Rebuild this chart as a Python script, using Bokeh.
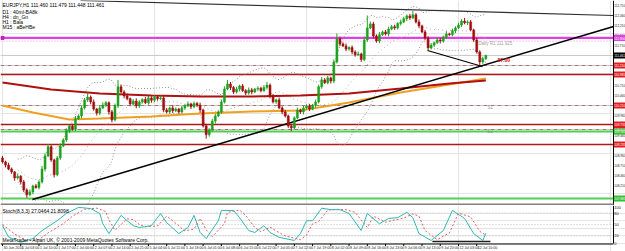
import numpy as np
import pandas as pd
from bokeh.plotting import figure
from bokeh.layouts import column
from bokeh.models import ColumnDataSource, Range1d
from bokeh.embed import file_html
from bokeh.resources import INLINE
from bokeh.core.properties import value

# ---------------- data ----------------
symbol_info = "EURJPY,H1  111.460 111.479 111.448 111.461"
info_lines = ["D1 : 40ml-BA8k", "H4 : dn_Gn", "H1 : Bala", "M15 : aBeHBe"]
stoch_title = "Stoch(8,3,3) 27.0464 21.8098"
watermark = "MetaTrader - Alpari UK, \u00a9 2001-2009 MetaQuotes Software Corp."

first_open = 108.90
close = [
    108.80, 108.72, 108.62, 108.55, 108.40, 108.44, 108.30, 108.10, 107.98, 108.05,
    108.20, 108.16, 108.30, 108.62, 108.95, 109.18, 108.85, 108.48, 108.90, 109.20,
    109.35, 109.58, 109.70, 109.62, 109.88, 109.95, 110.15, 110.35, 110.42, 110.30,
    110.12, 110.02, 110.15, 110.22, 110.28, 110.05, 109.85, 110.20, 110.68, 110.55,
    110.45, 110.38, 110.25, 110.32, 110.20, 110.30, 110.36, 110.28, 110.40, 110.34,
    110.42, 110.38, 110.40, 110.10, 110.05, 110.15, 110.08, 110.12, 110.05, 110.15,
    110.20, 110.25, 110.18, 110.26, 110.22, 110.10, 109.70, 109.48, 109.60, 109.82,
    109.95, 110.05, 110.30, 110.62, 110.75, 110.66, 110.55, 110.62, 110.70, 110.58,
    110.52, 110.60, 110.55, 110.62, 110.64, 110.58, 110.66, 110.72, 110.45, 110.30,
    110.35, 110.15, 110.05, 109.95, 109.70, 109.65, 109.90, 110.10, 110.05, 110.15,
    110.20, 110.12, 110.22, 110.30, 110.68, 110.85, 110.78, 110.90, 110.82, 111.30,
    111.88, 111.75, 111.70, 111.62, 111.66, 111.55, 111.48, 111.50, 111.36, 111.85,
    112.15, 112.25, 111.95, 111.82, 111.98, 112.05, 112.00, 112.12, 112.18, 112.15,
    112.26, 112.30, 112.38, 112.45, 112.40, 112.48, 112.30, 112.20, 112.05, 111.90,
    111.65, 111.72, 111.78, 111.85, 111.82, 111.92, 112.00, 111.98, 112.08, 112.15,
    112.22, 112.32, 112.28, 112.30, 112.10, 111.85, 111.55, 111.30, 111.38, 111.461,
]
upper_wick_pips = [
    5, 3, 6, 4, 2, 7, 3, 5, 4, 6,   3, 5, 4, 8, 6, 7, 4, 3, 5, 6,
    4, 6, 3, 5, 7, 4, 6, 5, 11, 4,  6, 3, 5, 7, 4, 3, 5, 6, 17, 5,
    4, 6, 3, 5, 7, 4, 3, 6, 5, 4,   5, 3, 6, 4, 5, 3, 7, 4, 3, 5,
    4, 6, 3, 5, 4, 6, 3, 5, 4, 6,   5, 4, 6, 7, 10, 5, 4, 6, 3, 5,
    4, 6, 5, 3, 5, 4, 6, 8, 4, 5,   3, 6, 4, 5, 3, 5, 4, 6, 3, 5,
    4, 5, 3, 6, 5, 7, 4, 5, 3, 6,   13, 5, 4, 6, 3, 5, 4, 6, 3, 8,
    31, 6, 5, 4, 7, 3, 5, 6, 4, 5,  3, 6, 5, 4, 5, 10, 4, 6, 3, 5,
    4, 5, 3, 6, 5, 4, 7, 3, 5, 4,   6, 5, 8, 4, 5, 3, 6, 4, 5, 2,
]
lower_wick_pips = [
    4, 6, 3, 5, 7, 4, 6, 5, 7, 4,   6, 3, 5, 4, 6, 3, 5, 7, 4, 5,
    3, 5, 6, 4, 5, 3, 6, 4, 5, 6,   4, 6, 5, 3, 5, 7, 6, 4, 5, 3,
    6, 4, 5, 3, 6, 5, 4, 3, 5, 6,   4, 5, 3, 6, 4, 5, 6, 3, 5, 4,
    5, 3, 6, 4, 5, 7, 4, 10, 5, 4,  6, 3, 5, 4, 3, 6, 5, 4, 6, 3,
    5, 4, 6, 3, 5, 4, 3, 5, 6, 4,   5, 3, 6, 4, 5, 8, 4, 3, 5, 6,
    4, 5, 3, 6, 4, 5, 3, 4, 6, 5,   4, 6, 3, 5, 4, 6, 5, 3, 6, 4,
    5, 3, 6, 4, 5, 3, 4, 6, 3, 5,   4, 5, 3, 6, 5, 3, 4, 5, 3, 6,
    7, 4, 5, 3, 6, 4, 5, 3, 4, 6,   3, 5, 4, 6, 3, 5, 4, 9, 5, 3,
]

time_labels = [
    "30 Jun 2010", "1 Jul 03:00", "1 Jul 10:00", "1 Jul 17:00", "2 Jul 00:00",
    "2 Jul 07:00", "2 Jul 14:00", "2 Jul 21:00", "5 Jul 04:00", "5 Jul 11:00",
    "5 Jul 18:00", "6 Jul 01:00", "6 Jul 08:00", "6 Jul 15:00", "6 Jul 22:00",
    "7 Jul 05:00", "7 Jul 12:00", "7 Jul 19:00", "8 Jul 02:00", "8 Jul 09:00",
    "8 Jul 16:00", "8 Jul 23:00", "9 Jul 06:00", "9 Jul 13:00", "9 Jul 20:00",
    "12 Jul 03:00", "12 Jul 10:00",
]
bars_per_label = 6

# stochastic main (%K) and signal (%D) lines, read at turning points
stoch_k_bar = [0, 2, 6, 10, 13, 18, 21, 25, 29, 32, 33, 35, 39, 41, 43, 45, 49, 52, 54, 58,
               61, 63, 65, 67, 71, 72, 76, 78, 81, 83, 86, 88, 91, 96, 98, 100, 102, 105, 108, 111,
               114, 118, 120, 124, 127, 130, 133, 135, 137, 141, 145, 148, 152, 155, 158, 159]
stoch_k = [47, 17, 3, 13, 34, 60, 79, 95, 92, 79, 52, 26, 74, 60, 47, 42, 47, 79, 55, 26,
           42, 74, 29, 13, 60, 87, 87, 68, 34, 29, 47, 29, 16, 8, 26, 60, 60, 93, 89, 89,
           79, 34, 79, 52, 66, 68, 82, 68, 26, 8, 34, 87, 66, 26, 8, 27.05]
stoch_d_bar = [0, 4, 8, 12, 15, 20, 23, 27, 31, 34, 35, 37, 41, 43, 45, 47, 51, 54, 56, 60,
               63, 65, 67, 69, 73, 74, 78, 80, 83, 85, 88, 90, 93, 98, 100, 102, 104, 107, 110, 113,
               116, 120, 122, 126, 129, 132, 135, 137, 139, 143, 147, 150, 154, 157, 159]
stoch_d = [50, 25, 7, 10, 28, 52, 72, 90, 93, 84, 62, 35, 65, 63, 50, 44, 46, 72, 60, 33,
           38, 66, 36, 18, 52, 82, 88, 74, 42, 31, 43, 33, 20, 10, 22, 52, 58, 88, 90, 89,
           82, 42, 72, 56, 62, 67, 78, 72, 34, 10, 28, 80, 70, 32, 21.81]

# moving averages (slow red, orange), read at sample bars
ma_red_bar = [0, 16, 32, 49, 65, 82, 98, 114, 131, 147, 159]
ma_red = [110.785, 110.61, 110.51, 110.46, 110.435, 110.435, 110.46, 110.51, 110.635, 110.76, 110.835]
ma_orange_bar = [0, 10, 22, 32, 49, 65, 82, 98, 114, 131, 147, 159]
ma_orange = [110.21, 110.035, 109.86, 109.885, 109.935, 110.01, 110.06, 110.085, 110.285, 110.535, 110.735, 110.885]

# horizontal levels
level_price = [111.90, 111.82, 111.21, 110.985, 110.21, 109.735, 109.61, 109.56, 109.235, 107.885]
level_kind = ["magenta", "magenta_dot", "pivot", "red", "pivot", "red", "pivot", "green", "red", "green"]

# drawn trend lines (bar, price)
trend_up_bar, trend_up_price = [9.87, 201.0], [107.86, 112.185]
trend_top_bar, trend_top_price = [25.66, 201.0], [112.835, 112.46]
trend_low_bar, trend_low_price = [139.8, 157.9], [111.585, 111.185]
stoch_line_bar, stoch_line_val = [141.4, 160.5], [5, 5]

price_ticks = [112.71, 112.46, 112.21, 111.96, 111.71, 110.71, 110.46, 109.96, 109.46,
               108.96, 108.71, 108.46, 108.21]
stoch_levels = [80, 50, 20]
stoch_ticks = [80, 50, 20, 0]
stoch_top_tick = 100

# ---------------- geometry ----------------
PX_PER_BAR = 3.04
X_PAD = 2.0
PRICE_TOP = 112.835
PX_PER_YEN = 40.0
MAIN_H = 205
STOCH_H = 46
STOCH_PX_PER_UNIT = 0.38
W = 625


def bar_at(px):
    return (px - X_PAD) / PX_PER_BAR


def price_at(py):
    return PRICE_TOP - py / PX_PER_YEN


def stoch_at(py):
    # py measured from top of stochastic figure
    return 100 - py / STOCH_PX_PER_UNIT


AXIS_BAR = bar_at(613)
LABEL_BAR = bar_at(613.7)
FONT = value("Liberation Sans")
AXIS_FONT = value("3.1px")

# ---------------- derived series ----------------
c = np.array(close)
o = np.array([first_open] + close[:-1])
h = np.maximum(o, c) + np.array(upper_wick_pips) / 100.0
l = np.minimum(o, c) - np.array(lower_wick_pips) / 100.0
idx = np.arange(len(c))
bull = c >= o
col = np.where(bull, "#1fa01f", "#a01010")

cs = pd.Series(c)
mid = cs.rolling(20, min_periods=6).mean()
sd = cs.rolling(20, min_periods=6).std(ddof=0)
bb_up = mid + 2 * sd
bb_dn = mid - 2 * sd

src = ColumnDataSource(dict(x=idx, o=o, c=c, h=h, l=l,
                            top=np.maximum(o, c), bot=np.minimum(o, c), col=col))

# ---------------- main chart ----------------
p = figure(width=W, height=MAIN_H, x_range=Range1d(bar_at(0), bar_at(W)),
           y_range=Range1d(price_at(MAIN_H), PRICE_TOP),
           x_axis_location=None, y_axis_location=None,
           toolbar_location=None, output_backend="svg", min_border=0)
p.outline_line_color = None
p.background_fill_color = "white"
p.border_fill_color = "white"

style = {
    "magenta": dict(color="#e040e0", w=2.2, dash="solid", box="#e040e0"),
    "magenta_dot": dict(color="#e890e8", w=1, dash="1 2", box=None),
    "pivot": dict(color="#a07878", w=1, dash="4 1 1 1", box="#e02020"),
    "red": dict(color="#b01818", w=1.3, dash="solid", box="#e02020"),
    "green": dict(color="#50d050", w=1.8, dash="solid", box="#30c030"),
}
for lp, kind in zip(level_price, level_kind):
    st = style[kind]
    p.segment(x0=[bar_at(0)], y0=[lp], x1=[AXIS_BAR], y1=[lp], line_color=st["color"],
              line_width=st["w"], line_dash=st["dash"])

# bid line
p.segment(x0=[bar_at(0)], y0=[c[-1]], x1=[AXIS_BAR], y1=[c[-1]], line_color="#c8c8c8", line_width=1)

# bollinger bands
p.line(idx, bb_up, line_color="#909090", line_dash="1 2", line_width=1)
p.line(idx, bb_dn, line_color="#909090", line_dash="1 2", line_width=1)
p.line(idx, mid, line_color="#b0b0b0", line_dash="1 3", line_width=1)

# moving averages
p.line(ma_orange_bar, ma_orange, line_color="#f0a020", line_width=2)
p.line(ma_red_bar, ma_red, line_color="#b01010", line_width=2)

# trend lines
p.line(trend_up_bar, trend_up_price, line_color="black", line_width=1.5)
p.line(trend_top_bar, trend_top_price, line_color="#303030", line_width=1.2)
p.line(trend_low_bar, trend_low_price, line_color="black", line_width=1.2)

# candles
p.segment(x0="x", y0="h", x1="x", y1="l", line_color="col", line_width=1, source=src)
p.vbar(x="x", top="top", bottom="bot", width=0.66, fill_color="col", line_color="col",
       line_width=0.5, source=src)

# texts
p.text(x=[bar_at(2)], y=[price_at(1)], text=[symbol_info], text_font=FONT,
       text_font_size=value("5px"), text_color="black", text_baseline="top")
p.text(x=[bar_at(2)] * len(info_lines),
       y=[price_at(8 + 5 * i) for i in range(len(info_lines))],
       text=info_lines, text_font=FONT, text_font_size=value("5px"),
       text_color="black", text_baseline="top")
p.text(x=[bar_at(478)], y=[price_at(43)], text=["Daily R1 111.925"], text_font=FONT,
       text_font_size=value("4.5px"), text_color="#a0a0a0", text_baseline="middle")
p.text(x=[bar_at(497)], y=[price_at(59)], text=["87.00"], text_font=FONT,
       text_font_size=value("5px"), text_color="#d02020", text_baseline="middle",
       text_font_style="bold")
p.text(x=[bar_at(487), bar_at(487)], y=[price_at(107), price_at(131)], text=["S1", "S2"],
       text_font=FONT, text_font_size=value("4.5px"), text_color="#909090",
       text_baseline="middle")
p.scatter(x=[bar_at(2)], y=[level_price[0]], marker="square", size=3, color="#c020c0")

# price axis (right)
p.segment(x0=[AXIS_BAR], y0=[price_at(0)], x1=[AXIS_BAR], y1=[price_at(MAIN_H)],
          line_color="black", line_width=1)
p.text(x=[LABEL_BAR] * len(price_ticks), y=price_ticks,
       text=[f"{t:.3f}" for t in price_ticks], text_font=FONT, text_font_size=AXIS_FONT,
       text_color="#202020", text_baseline="middle")

box_p, box_c = [], []
for lp, kind in zip(level_price, level_kind):
    if style[kind]["box"]:
        box_p.append(lp)
        box_c.append(style[kind]["box"])
box_p.append(c[-1])
box_c.append("black")
half = 3.0 / PX_PER_YEN
p.quad(left=[AXIS_BAR + 0.1] * len(box_p), right=[bar_at(W + 5)] * len(box_p),
       bottom=[v - half for v in box_p], top=[v + half for v in box_p],
       fill_color=box_c, line_color=None)
p.text(x=[LABEL_BAR] * len(box_p), y=box_p, text=[f"{v:.3f}" for v in box_p], text_font=FONT,
       text_font_size=AXIS_FONT, text_color="white", text_baseline="middle")

# separator
p.segment(x0=[bar_at(0)], y0=[price_at(MAIN_H - 1)], x1=[AXIS_BAR], y1=[price_at(MAIN_H - 1)],
          line_color="#808080", line_width=2)

# ---------------- stochastic + time scale ----------------
s = figure(width=W, height=STOCH_H, x_range=p.x_range,
           y_range=Range1d(stoch_at(STOCH_H), 100),
           x_axis_location=None, y_axis_location=None,
           toolbar_location=None, output_backend="svg", min_border=0)
s.outline_line_color = None
s.background_fill_color = "white"
s.border_fill_color = "white"

s.segment(x0=[bar_at(0)] * len(stoch_levels), y0=stoch_levels,
          x1=[AXIS_BAR] * len(stoch_levels), y1=stoch_levels,
          line_color="#c0c0c0", line_dash="1 2")
s.line(stoch_d_bar, stoch_d, line_color="#e06060", line_dash="2 2", line_width=1)
s.line(stoch_k_bar, stoch_k, line_color="#30b8b0", line_width=1)
s.line(stoch_line_bar, stoch_line_val, line_color="#202020", line_width=1.5)

# right scale of the stochastic window
s.segment(x0=[AXIS_BAR], y0=[stoch_at(38)], x1=[AXIS_BAR], y1=[100], line_color="black")
s.text(x=[LABEL_BAR] * len(stoch_ticks), y=stoch_ticks, text=[str(t) for t in stoch_ticks],
       text_font=FONT, text_font_size=value("4px"), text_color="#202020", text_baseline="middle")
s.text(x=[LABEL_BAR], y=[stoch_top_tick], text=[str(stoch_top_tick)],
       text_font=FONT, text_font_size=value("4px"), text_color="#202020", text_baseline="top",
       y_offset=0.5)
s.text(x=[bar_at(2)], y=[stoch_at(2)], text=[stoch_title], text_font=FONT,
       text_font_size=value("5px"), text_color="black", text_baseline="top")
s.text(x=[bar_at(2)], y=[stoch_at(37)], text=[watermark], text_font=FONT,
       text_font_size=value("5px"), text_color="black", text_baseline="bottom")

# time scale along the bottom
s.segment(x0=[bar_at(0)], y0=[stoch_at(38.5)], x1=[AXIS_BAR], y1=[stoch_at(38.5)],
          line_color="black", line_width=1)
tick_pos = [i * bars_per_label for i in range(len(time_labels))]
s.segment(x0=tick_pos, y0=[stoch_at(38.5)] * len(tick_pos), x1=tick_pos,
          y1=[stoch_at(40.5)] * len(tick_pos), line_color="black")
s.text(x=tick_pos, y=[stoch_at(40.5)] * len(tick_pos), text=time_labels, text_font=FONT,
       text_font_size=value("3.6px"), text_color="#202020", text_baseline="top",
       text_align="left", x_offset=1)

layout = column(p, s, spacing=0)
open("out.html", "w").write(file_html(layout, INLINE))
